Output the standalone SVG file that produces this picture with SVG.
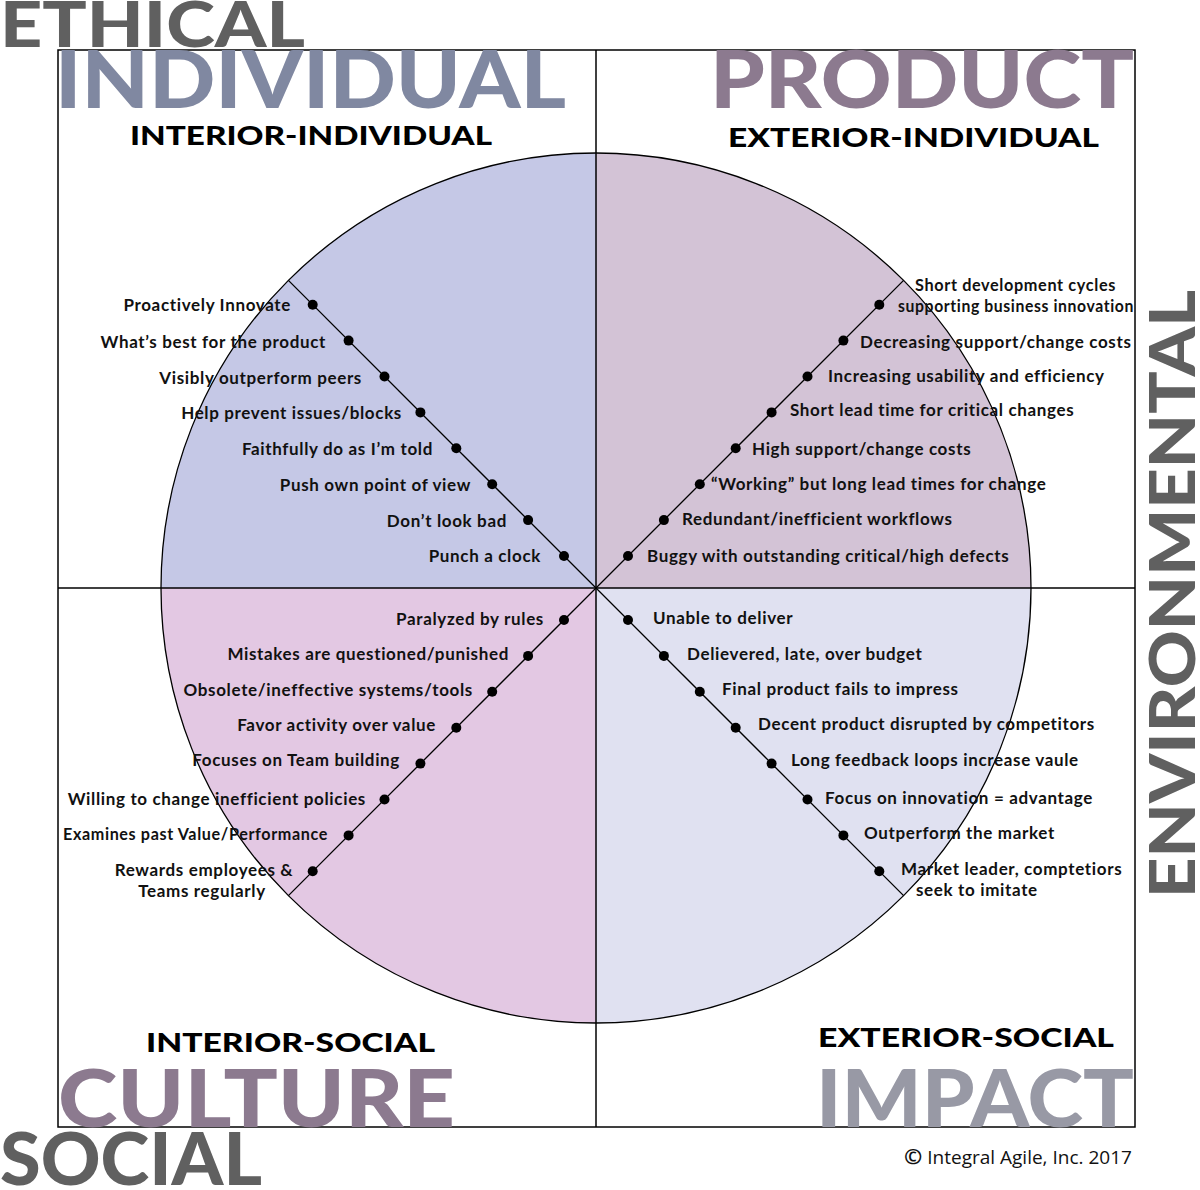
<svg xmlns="http://www.w3.org/2000/svg" width="1200" height="1190" viewBox="0 0 1200 1190">
<style>
.lbl{font-family:Lato,"Open Sans","Liberation Sans",sans-serif;font-weight:700;font-size:17px;letter-spacing:0.65px;fill:#111}
.end{text-anchor:end}
.mid{text-anchor:middle}
.quad{font-family:Lato,"Open Sans","Liberation Sans",sans-serif;font-weight:900;font-size:27px;fill:#000}
.big{font-family:Lato,"Open Sans","Liberation Sans",sans-serif;font-weight:900}
.line{stroke:#000;stroke-width:1.5;fill:none}
.thin{stroke:#000;stroke-width:1.3;fill:none}
.dot{fill:#000}
</style>
<rect width="1200" height="1190" fill="#fff"/>
<g id="frame">
<rect x="58" y="50" width="1077" height="1077" class="line"/>
</g>
<g id="circle">
<path d="M596,588 L161,588 A435,435 0 0 1 596,153 Z" fill="#c5c8e6"/>
<path d="M596,588 L596,153 A435,435 0 0 1 1031,588 Z" fill="#d3c3d6"/>
<path d="M596,588 L161,588 A435,435 0 0 0 596,1023 Z" fill="#e3c8e3"/>
<path d="M596,588 L596,1023 A435,435 0 0 0 1031,588 Z" fill="#e0e1f1"/>
<circle cx="596" cy="588" r="435" class="thin"/>
</g>
<g id="connectors">
<line x1="596" y1="50" x2="596" y2="1127" class="line"/>
<line x1="58" y1="588" x2="1135" y2="588" class="line"/>
<line x1="288.4" y1="280.4" x2="903.6" y2="895.6" class="thin"/>
<line x1="903.6" y1="280.4" x2="288.4" y2="895.6" class="thin"/>
</g>
<g id="dots-tl">
<circle cx="564" cy="556" r="5" class="dot"/><circle cx="528.1" cy="520.1" r="5" class="dot"/><circle cx="492.2" cy="484.2" r="5" class="dot"/><circle cx="456.3" cy="448.3" r="5" class="dot"/><circle cx="420.4" cy="412.4" r="5" class="dot"/><circle cx="384.5" cy="376.5" r="5" class="dot"/><circle cx="348.6" cy="340.6" r="5" class="dot"/><circle cx="312.7" cy="304.7" r="5" class="dot"/>
</g>
<g id="dots-tr">
<circle cx="628" cy="556" r="5" class="dot"/><circle cx="663.9" cy="520.1" r="5" class="dot"/><circle cx="699.8" cy="484.2" r="5" class="dot"/><circle cx="735.7" cy="448.3" r="5" class="dot"/><circle cx="771.6" cy="412.4" r="5" class="dot"/><circle cx="807.5" cy="376.5" r="5" class="dot"/><circle cx="843.4" cy="340.6" r="5" class="dot"/><circle cx="879.3" cy="304.7" r="5" class="dot"/>
</g>
<g id="dots-bl">
<circle cx="564" cy="620" r="5" class="dot"/><circle cx="528.1" cy="655.9" r="5" class="dot"/><circle cx="492.2" cy="691.8" r="5" class="dot"/><circle cx="456.3" cy="727.7" r="5" class="dot"/><circle cx="420.4" cy="763.6" r="5" class="dot"/><circle cx="384.5" cy="799.5" r="5" class="dot"/><circle cx="348.6" cy="835.4" r="5" class="dot"/><circle cx="312.7" cy="871.3" r="5" class="dot"/>
</g>
<g id="dots-br">
<circle cx="628" cy="620" r="5" class="dot"/><circle cx="663.9" cy="655.9" r="5" class="dot"/><circle cx="699.8" cy="691.8" r="5" class="dot"/><circle cx="735.7" cy="727.7" r="5" class="dot"/><circle cx="771.6" cy="763.6" r="5" class="dot"/><circle cx="807.5" cy="799.5" r="5" class="dot"/><circle cx="843.4" cy="835.4" r="5" class="dot"/><circle cx="879.3" cy="871.3" r="5" class="dot"/>
</g>
<g id="labels-tl">
<text class="lbl end" x="291" y="311">Proactively Innovate</text>
<text class="lbl end" x="326" y="348">What’s best for the product</text>
<text class="lbl end" x="362" y="384">Visibly outperform peers</text>
<text class="lbl end" x="402" y="419">Help prevent issues/blocks</text>
<text class="lbl end" x="433" y="455">Faithfully do as I’m told</text>
<text class="lbl end" x="471" y="491">Push own point of view</text>
<text class="lbl end" x="507" y="527">Don’t look bad</text>
<text class="lbl end" x="541" y="562">Punch a clock</text>
</g>
<g id="labels-tr">
<text class="lbl" x="915" y="291" textLength="201" lengthAdjust="spacingAndGlyphs">Short development cycles</text>
<text class="lbl" x="898" y="312" textLength="236" lengthAdjust="spacingAndGlyphs">supporting business innovation</text>
<text class="lbl" x="860" y="348">Decreasing support/change costs</text>
<text class="lbl" x="828" y="382">Increasing usability and efficiency</text>
<text class="lbl" x="790" y="416">Short lead time for critical changes</text>
<text class="lbl" x="752" y="455">High support/change costs</text>
<text class="lbl" x="711" y="490">“Working” but long lead times for change</text>
<text class="lbl" x="682" y="525">Redundant/inefficient workflows</text>
<text class="lbl" x="647" y="562">Buggy with outstanding critical/high defects</text>
</g>
<g id="labels-bl">
<text class="lbl end" x="544" y="625">Paralyzed by rules</text>
<text class="lbl end" x="509" y="660">Mistakes are questioned/punished</text>
<text class="lbl end" x="473" y="696">Obsolete/ineffective systems/tools</text>
<text class="lbl end" x="436" y="731">Favor activity over value</text>
<text class="lbl end" x="400" y="766">Focuses on Team building</text>
<text class="lbl end" x="366" y="805">Willing to change inefficient policies</text>
<text class="lbl" x="63" y="840" textLength="265" lengthAdjust="spacingAndGlyphs">Examines past Value/Performance</text>
<text class="lbl mid" x="204" y="876">Rewards employees &amp;</text>
<text class="lbl mid" x="202" y="897">Teams regularly</text>
</g>
<g id="labels-br">
<text class="lbl" x="653" y="624">Unable to deliver</text>
<text class="lbl" x="687" y="660">Delievered, late, over budget</text>
<text class="lbl" x="722" y="695">Final product fails to impress</text>
<text class="lbl" x="758" y="730">Decent product disrupted by competitors</text>
<text class="lbl" x="791" y="766">Long feedback loops increase vaule</text>
<text class="lbl" x="825" y="804">Focus on innovation = advantage</text>
<text class="lbl" x="864" y="839">Outperform the market</text>
<text class="lbl" x="901" y="875">Market leader, comptetiors</text>
<text class="lbl" x="916" y="896">seek to imitate</text>
</g>
<g id="quadrant-titles">
<text class="quad" x="130" y="145" textLength="362" lengthAdjust="spacingAndGlyphs">INTERIOR-INDIVIDUAL</text>
<text class="quad" x="728" y="147" textLength="371" lengthAdjust="spacingAndGlyphs">EXTERIOR-INDIVIDUAL</text>
<text class="quad" x="146" y="1052" textLength="289" lengthAdjust="spacingAndGlyphs">INTERIOR-SOCIAL</text>
<text class="quad" x="818" y="1047" textLength="296" lengthAdjust="spacingAndGlyphs">EXTERIOR-SOCIAL</text>
</g>
<g id="big-words">
<text class="big" x="0" y="47" font-size="62" fill="#606060" textLength="305" lengthAdjust="spacingAndGlyphs">ETHICAL</text>
<text class="big" x="55" y="108" font-size="80" fill="#8088a1" textLength="511" lengthAdjust="spacingAndGlyphs">INDIVIDUAL</text>
<text class="big" x="710" y="108" font-size="80" fill="#8c7a8f" textLength="424" lengthAdjust="spacingAndGlyphs">PRODUCT</text>
<text class="big" x="58" y="1127" font-size="80" fill="#8c7a8f" textLength="397" lengthAdjust="spacingAndGlyphs">CULTURE</text>
<text class="big" x="0" y="1185" font-size="72" fill="#606060" textLength="262" lengthAdjust="spacingAndGlyphs">SOCIAL</text>
<text class="big" x="816" y="1127" font-size="80" fill="#9899a5" textLength="318" lengthAdjust="spacingAndGlyphs">IMPACT</text>
<text class="big" transform="translate(1195,898) rotate(-90)" x="0" y="0" font-size="62" fill="#606060" textLength="608" lengthAdjust="spacingAndGlyphs">ENVIRONMENTAL</text>
</g>
<g id="copyright">
<text x="904" y="1164" font-family="'Open Sans','Liberation Sans',sans-serif" font-size="19" fill="#111"><tspan font-weight="700" font-size="22">©</tspan> Integral Agile, Inc. 2017</text>
</g>
</svg>
